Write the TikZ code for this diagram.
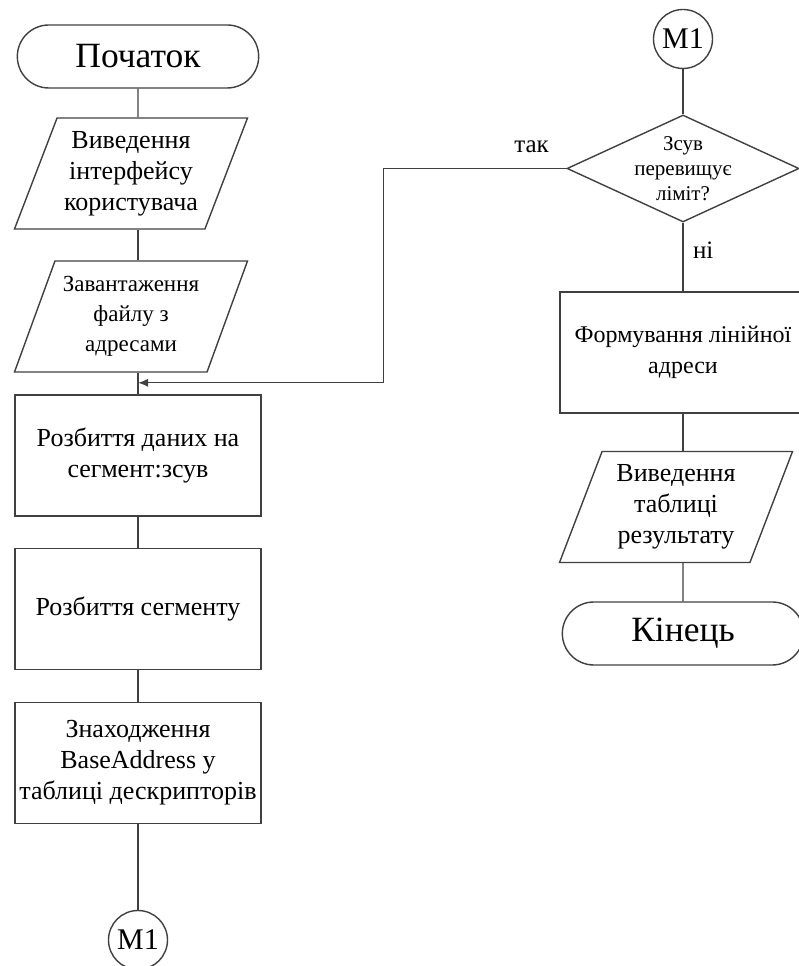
\documentclass[tikz,border=0pt]{standalone}
\usepackage{fontspec}
\setmainfont{Liberation Serif}
\usetikzlibrary{shapes.geometric,shapes.misc,arrows.meta,calc}

\begin{document}
\begin{tikzpicture}
 [x=1pt, y=1pt, line width=1.4pt, draw=black!75,
  term node/.style={rounded rectangle, draw, minimum width=248pt, minimum height=63pt, font=\fontsize{35.5}{40}\selectfont},
  io node/.style={trapezium, trapezium left angle=65, trapezium right angle=115, trapezium stretches body, draw, minimum width=233pt, minimum height=111pt, align=center, xshift=-7pt, font=\fontsize{26}{31}\selectfont},
  proc node/.style={rectangle, draw, minimum width=246pt, minimum height=121pt, align=center, font=\fontsize{26}{31}\selectfont},
  cond node/.style={diamond, draw, minimum width=232pt, minimum height=107pt, inner sep=0pt},
  conn node/.style={circle, draw, minimum size=59pt, inner sep=0pt, font=\fontsize{30}{32}\selectfont}]

\useasboundingbox (0,0) rectangle (798,966);

% left column
\node[term node] (start) at (138,909.5) {Початок};
\node[io node] (ui) [node distance=117pt, below of=start] {Виведення\\інтерфейсу\\користувача};
\node[io node] (load) [node distance=143pt, below of=ui, xshift=7pt, font=\fontsize{23}{30}\selectfont] {Завантаження\\файлу з\\адресами};
\node[proc node] (split) [node distance=139pt, below of=load, xshift=7pt] {Розбиття даних на\\сегмент:зсув};
\node[proc node] (seg) [node distance=153.5pt, below of=split] {Розбиття сегменту};
\node[proc node] (base) [node distance=154pt, below of=seg] {Знаходження\\BaseAddress у\\таблиці дескрипторів};
\node[conn node] (m1b) [node distance=177pt, below of=base] {M1};

\coordinate (join) at ($(split.north)+(0,11.5)$);

% right column
\node[conn node] (m1a) at (683,927) {M1};
\node[cond node] (dec) [node distance=129.5pt, below of=m1a,
  label={[align=center, font=\fontsize{21}{25}\selectfont]center:Зсув\\перевищує\\ліміт?}] {};
\node[proc node] (lin) [node distance=184pt, below of=dec, font=\fontsize{24}{31}\selectfont] {Формування лінійної\\адреси};
\node[io node] (out) [node distance=154.5pt, below of=lin] {Виведення\\таблиці\\результату};
\node[term node] (end) [node distance=126.5pt, below of=out, xshift=7pt] {Кінець};

\path
  (start) edge (start |- ui.north)
  (start |- ui.south) edge (start |- load.north)
  (split |- load.south) edge (split)
  (split) edge (seg)
  (seg) edge (base)
  (base) edge (m1b)
  (m1a) edge (dec)
  (dec) edge node [right, pos=0.4, xshift=6pt, font=\fontsize{25}{28}\selectfont] {ні} (lin)
  (lin) edge (lin |- out.north)
  (lin |- out.south) edge (end);

\draw[-{Latex[length=10pt,width=8pt]}] (dec.west) -- node [above=12pt, pos=0.19, font=\fontsize{25}{28}\selectfont] {так} ++(-183,0) |- (join);

\end{tikzpicture}
\end{document}
